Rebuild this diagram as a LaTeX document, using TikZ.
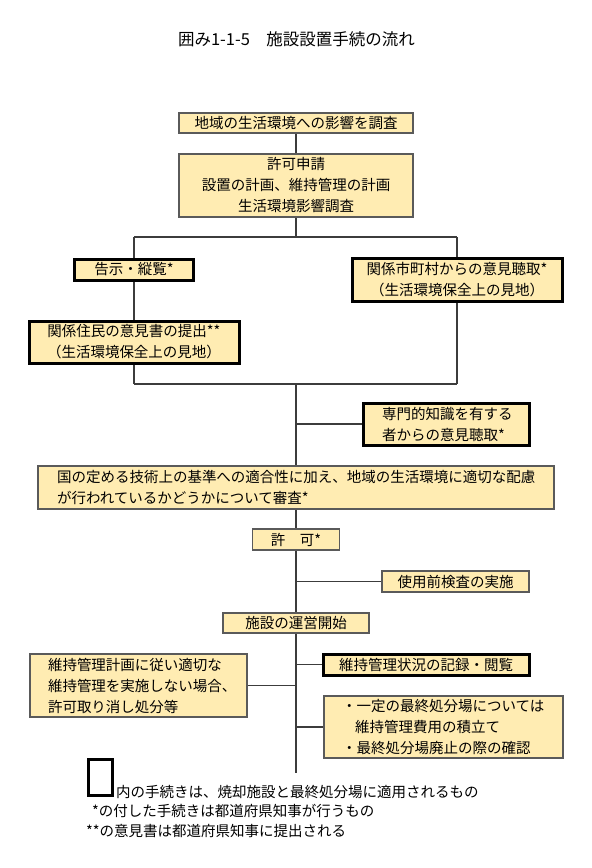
\documentclass[tikz,border=0pt]{standalone}
\usepackage{fontspec}
\setmainfont{Noto Sans CJK JP}
\definecolor{boxfill}{RGB}{255,236,178}
\definecolor{boxline}{RGB}{90,90,90}
\definecolor{conline}{RGB}{60,60,60}
\newcommand\boxfont{\fontsize{14.5}{21}\selectfont}
\newcommand\titlefont{\fontsize{16.5}{20}\selectfont}
\newcommand\ind[1]{\hspace*{#1}}
\begin{document}
\begin{tikzpicture}[x=1pt,y=-1pt,
  box/.style={draw=boxline, line width=1.6pt, fill=boxfill, inner sep=0pt, font=\boxfont, align=center},
  thickbox/.style={box, draw=black, line width=3pt},
  lbox/.style={align=left, text width=#1},
  conn/.style={draw=conline, line width=1.3pt}]
\useasboundingbox (0,0) rectangle (592,868);

\node[font=\titlefont] (title) at (296.5,39) {囲み1-1-5　施設設置手続の流れ};

\node[box, minimum width=234pt, minimum height=20pt] (b1) at (296,123) {地域の生活環境への影響を調査};
\node[box, minimum width=234pt, minimum height=63pt] (b2) at (296,185.5) {許可申請\\設置の計画、維持管理の計画\\生活環境影響調査};

\coordinate (sL) at (134,237);
\coordinate (sC) at (296,237);
\coordinate (sR) at (457,237);

\node[thickbox, minimum width=119pt, minimum height=21pt] (kokuji) at (134,269.5) {告示・縦覧*};
\node[thickbox, minimum width=210pt, minimum height=43pt] (shi) at (457,279.5) {関係市町村からの意見聴取*\\（生活環境保全上の見地）};
\node[thickbox, minimum width=210pt, minimum height=42pt] (jumin) at (134,342) {関係住民の意見書の提出**\\（生活環境保全上の見地）};

\coordinate (mL) at (134,384);
\coordinate (mC) at (296,384);
\coordinate (mR) at (457,384);

\node[thickbox, lbox=166pt, minimum height=42pt] (senmon) at (446,424) {\ind{19pt}専門的知識を有する\\\ind{19pt}者からの意見聴取*};
\coordinate (jS) at (296,424);

\node[box, lbox=516pt, minimum height=43pt] (big) at (296,487.5) {\ind{19pt}国の定める技術上の基準への適合性に加え、地域の生活環境に適切な配慮\\\ind{19pt}が行われているかどうかについて審査*};

\node[box, minimum width=87pt, minimum height=21pt] (kyoka) at (296,539.5) {許　可*};
\node[box, minimum width=147pt, minimum height=21pt] (shiyo) at (455.5,581.5) {使用前検査の実施};
\coordinate (jU) at (296,581.5);

\node[box, minimum width=146pt, minimum height=20pt] (unei) at (296,623) {施設の運営開始};

\node[box, lbox=217pt, minimum height=63pt] (lb) at (138.5,685.5) {\ind{18pt}維持管理計画に従い適切な\\\ind{18pt}維持管理を実施しない場合、\\\ind{18pt}許可取り消し処分等};
\node[thickbox, minimum width=206pt, minimum height=21pt] (kiroku) at (426,664.5) {維持管理状況の記録・閲覧};
\node[box, lbox=239pt, minimum height=62pt] (rb) at (443.5,727) {\ind{18pt}・一定の最終処分場については\\\ind{31pt}維持管理費用の積立て\\\ind{18pt}・最終処分場廃止の際の確認};

\coordinate (jK) at (296,664.5);
\coordinate (jL) at (296,685.5);
\coordinate (jR) at (296,727);
\coordinate (tEnd) at (296,773);

% connectors
\draw[conn] (b1) -- (b2);
\draw[conn] (b2) -- (sC);
\draw[conn] (sL) -- (sR);
\draw[conn] (sL) -- (kokuji);
\draw[conn] (kokuji) -- (jumin);
\draw[conn] (jumin) -- (mL);
\draw[conn] (sR) -- (shi);
\draw[conn] (shi) -- (mR);
\draw[conn] (mL) -- (mR);
\draw[conn] (mC) -- (big);
\draw[conn] (jS) -- (senmon);
\draw[conn] (big) -- (kyoka);
\draw[conn] (kyoka) -- (unei);
\draw[conn] (jU) -- (shiyo);
\draw[conn] (unei) -- (tEnd);
\draw[conn] (jK) -- (kiroku);
\draw[conn] (jL) -- (lb);
\draw[conn] (jR) -- (rb);

% legend
\node[draw=black, line width=3pt, minimum width=24pt, minimum height=36pt, inner sep=0pt] (leg) at (100,777) {};
\node[font=\boxfont, anchor=base west, inner sep=0pt] (leg1) at (116,797.5) {内の手続きは、焼却施設と最終処分場に適用されるもの};
\node[font=\boxfont, anchor=base west, inner sep=0pt] (leg2) at (92,816.5) {*の付した手続きは都道府県知事が行うもの};
\node[font=\boxfont, anchor=base west, inner sep=0pt] (leg3) at (86,836.5) {**の意見書は都道府県知事に提出される};
\end{tikzpicture}
\end{document}
